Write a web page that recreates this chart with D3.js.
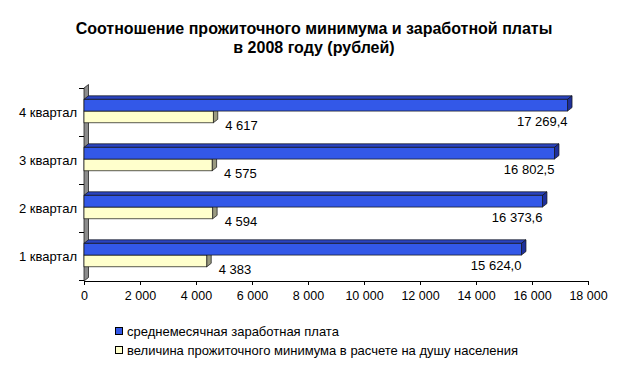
<!DOCTYPE html>
<html><head><meta charset="utf-8">
<script src="https://cdn.jsdelivr.net/npm/d3@7/dist/d3.min.js"></script>
<style>
html,body{margin:0;padding:0;background:#fff;}
svg{display:block;font-family:"Liberation Sans",Arial,sans-serif;}
</style></head>
<body>
<svg id="chart" width="629" height="367"></svg>
<script>
const titleLines = ["Соотношение прожиточного минимума и заработной платы", "в 2008 году (рублей)"];
const categories = ["1 квартал", "2 квартал", "3 квартал", "4 квартал"];
const seriesNames = ["среднемесячная заработная плата", "величина прожиточного минимума в расчете на душу населения"];
const salary = [15624.0, 16373.6, 16802.5, 17269.4];
const minimum = [4383, 4594, 4575, 4617];
const xTicks = [0, 2000, 4000, 6000, 8000, 10000, 12000, 14000, 16000, 18000];

const colors = {
  salary: {front: "#3358e8", top: "#2a44c0", side: "#1e309a"},
  minimum: {front: "#ffffcc", top: "#d8d8a8", side: "#9a9a80"}
};
const depth = {dx: 4.5, dy: -3.5};

const locale = d3.formatLocale({decimal: ",", thousands: "\u00a0", grouping: [3], currency: ["", ""]});
const fmtInt = locale.format(",.0f");
const fmt1 = locale.format(",.1f");

const svg = d3.select("#chart");
const x = d3.scaleLinear().domain([0, 18000]).range([84, 588]);
const y = d3.scaleBand().domain(categories.slice().reverse()).range([88, 280]);
const keys = ["salary", "minimum"];
const ySub = d3.scaleBand().domain(keys).range([11.3, 34.8]);

// title
svg.append("g").selectAll("text").data(titleLines).join("text")
  .attr("x", 314).attr("y", (d, i) => 34 + i * 19)
  .attr("text-anchor", "middle").attr("font-size", 16).attr("font-weight", "bold")
  .attr("fill", "#000").text(d => d);

// wall (3D left wall)
const x0 = x(0);
svg.append("polygon")
  .attr("points", [[x0, y.range()[1] + 1], [x0 + depth.dx, y.range()[1] + 1 + depth.dy], [x0 + depth.dx, y.range()[0] + depth.dy], [x0, y.range()[0]]].map(p => p.join(",")).join(" "))
  .attr("fill", "#8c8c8c").attr("stroke", "#222").attr("stroke-width", 0.8);

// y axis ticks at band boundaries
const bounds = categories.map(c => y(c)).concat([y.range()[1]]);
svg.append("g").selectAll("line").data(bounds).join("line")
  .attr("x1", x0 - 5).attr("x2", x0).attr("y1", d => d + 0.5).attr("y2", d => d + 0.5)
  .attr("stroke", "#000").attr("stroke-width", 1);

// category labels
svg.append("g").selectAll("text").data(categories).join("text")
  .attr("x", 77).attr("y", d => y(d) + y.bandwidth() / 2 + 5)
  .attr("text-anchor", "end").attr("font-size", 13).attr("fill", "#000").text(d => d);

// bars
const rows = categories.map((c, i) => ({cat: c, salary: salary[i], minimum: minimum[i]}));
const bars = [];
rows.forEach(r => {
  ["minimum", "salary"].forEach(k => bars.push({cat: r.cat, key: k, value: r[k]}));
});
const barG = svg.append("g");
bars.forEach(b => {
  const yt = y(b.cat) + ySub(b.key);
  const h = ySub.bandwidth();
  const x1 = x(b.value);
  const c = colors[b.key];
  const g = barG.append("g");
  g.append("polygon")
    .attr("points", [[x0, yt], [x0 + depth.dx, yt + depth.dy], [x1 + depth.dx, yt + depth.dy], [x1, yt]].map(p => p.join(",")).join(" "))
    .attr("fill", c.top).attr("stroke", "#111").attr("stroke-width", 0.7);
  g.append("polygon")
    .attr("points", [[x1, yt], [x1 + depth.dx, yt + depth.dy], [x1 + depth.dx, yt + h + depth.dy], [x1, yt + h]].map(p => p.join(",")).join(" "))
    .attr("fill", c.side).attr("stroke", "#111").attr("stroke-width", 0.7);
  g.append("rect")
    .attr("x", x0).attr("y", yt).attr("width", x1 - x0).attr("height", h)
    .attr("fill", c.front).attr("stroke", "#111").attr("stroke-width", 0.7);
});

// data labels
svg.append("g").selectAll("text").data(rows).join("text")
  .attr("x", d => x(d.salary)).attr("y", d => y(d.cat) + y.bandwidth() / 2 + 14)
  .attr("text-anchor", "end").attr("font-size", 13).attr("fill", "#000")
  .text(d => fmt1(d.salary));
svg.append("g").selectAll("text").data(rows).join("text")
  .attr("x", d => x(d.minimum) + 12).attr("y", d => y(d.cat) + y.bandwidth() / 2 + 18)
  .attr("text-anchor", "start").attr("font-size", 13).attr("fill", "#000")
  .text(d => fmtInt(d.minimum));

// x axis
const xAxis = d3.axisBottom(x).tickValues(xTicks).tickFormat(fmtInt).tickSizeInner(4).tickSizeOuter(0).tickPadding(6);
const gx = svg.append("g").attr("transform", "translate(0,281)").call(xAxis);
gx.select(".domain").attr("stroke", "#000");
gx.selectAll(".tick line").attr("stroke", "#000");
gx.selectAll("text").attr("font-size", 12.5).attr("font-family", "Liberation Sans, Arial, sans-serif").attr("fill", "#000");

// legend
const legend = svg.append("g").selectAll("g").data(keys).join("g")
  .attr("transform", (d, i) => `translate(115,${327 + i * 19})`);
legend.append("rect").attr("x", 0.5).attr("y", 0.5).attr("width", 7).attr("height", 7)
  .attr("fill", d => colors[d].front).attr("stroke", "#000").attr("stroke-width", 1);
legend.append("text").attr("x", 12).attr("y", 8.5).attr("font-size", 13).attr("fill", "#000")
  .text((d, i) => seriesNames[i]);
</script>
</body></html>
